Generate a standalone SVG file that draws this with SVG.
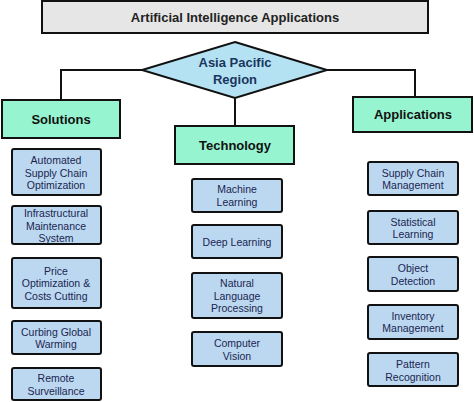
<svg xmlns="http://www.w3.org/2000/svg" width="474" height="402" viewBox="0 0 474 402">
<style>
.title{fill:#e6e6e6;stroke:#111;stroke-width:2}
.dia{fill:#b4e2f2;stroke:#111;stroke-width:2}
.cat{fill:#96f5d0;stroke:#111;stroke-width:2}
.item{fill:#bcd8f0;stroke:#111;stroke-width:2}
.conn{fill:none;stroke:#111;stroke-width:2}
text{font-family:"Liberation Sans",Arial,sans-serif;text-anchor:middle}
.tt{font-size:13px;font-weight:bold;fill:#222}
.dt{font-size:13px;font-weight:bold;fill:#1a3560}
.ct{font-size:13px;font-weight:bold;fill:#111}
.it{font-size:10.5px;fill:#1a2550}
</style>
<g id="connectors">
<path class="conn" d="M142,70 H61 V100"/>
<path class="conn" d="M327,70 H415 V97"/>
<path class="conn" d="M235,98 V126"/>
</g>
<g id="title"><rect class="title" x="42" y="1" width="386" height="32"/><text class="tt" x="235" y="22">Artificial Intelligence Applications</text></g>
<g id="asia"><polygon class="dia" points="235,42 327,70 235,98 142,70"/><text class="dt" x="235" y="67">Asia Pacific</text><text class="dt" x="235" y="84">Region</text></g>
<g id="solutions"><rect class="cat" x="2" y="100" width="118" height="38"/><text class="ct" x="61" y="124">Solutions</text></g>
<g id="technology"><rect class="cat" x="175" y="126" width="119" height="38"/><text class="ct" x="235" y="150">Technology</text></g>
<g id="applications"><rect class="cat" x="353" y="97" width="119" height="35"/><text class="ct" x="413" y="119">Applications</text></g>

<g id="s1"><rect class="item" x="12" y="149" width="89" height="46" rx="2"/><text class="it" x="56" y="164">Automated</text><text class="it" x="56" y="177">Supply Chain</text><text class="it" x="56" y="189">Optimization</text></g>
<g id="s2"><rect class="item" x="12" y="206" width="89" height="38" rx="2"/><text class="it" x="56" y="217">Infrastructural</text><text class="it" x="56" y="230">Maintenance</text><text class="it" x="56" y="242">System</text></g>
<g id="s3"><rect class="item" x="12" y="258" width="89" height="50" rx="2"/><text class="it" x="56" y="275">Price</text><text class="it" x="56" y="287">Optimization &amp;</text><text class="it" x="56" y="300">Costs Cutting</text></g>
<g id="s4"><rect class="item" x="12" y="321" width="89" height="33" rx="2"/><text class="it" x="56" y="336">Curbing Global</text><text class="it" x="56" y="348">Warming</text></g>
<g id="s5"><rect class="item" x="12" y="368" width="89" height="32" rx="2"/><text class="it" x="56" y="382">Remote</text><text class="it" x="56" y="395">Surveillance</text></g>

<g id="t1"><rect class="item" x="192" y="179" width="90" height="33" rx="2"/><text class="it" x="237" y="193">Machine</text><text class="it" x="237" y="206">Learning</text></g>
<g id="t2"><rect class="item" x="192" y="225" width="90" height="33" rx="2"/><text class="it" x="237" y="246">Deep Learning</text></g>
<g id="t3"><rect class="item" x="192" y="273" width="90" height="45" rx="2"/><text class="it" x="237" y="287">Natural</text><text class="it" x="237" y="300">Language</text><text class="it" x="237" y="312">Processing</text></g>
<g id="t4"><rect class="item" x="192" y="332" width="90" height="34" rx="2"/><text class="it" x="237" y="347">Computer</text><text class="it" x="237" y="360">Vision</text></g>

<g id="a1"><rect class="item" x="368" y="162" width="90" height="33" rx="2"/><text class="it" x="413" y="177">Supply Chain</text><text class="it" x="413" y="189">Management</text></g>
<g id="a2"><rect class="item" x="368" y="211" width="90" height="33" rx="2"/><text class="it" x="413" y="226">Statistical</text><text class="it" x="413" y="238">Learning</text></g>
<g id="a3"><rect class="item" x="368" y="257" width="90" height="34" rx="2"/><text class="it" x="413" y="272">Object</text><text class="it" x="413" y="285">Detection</text></g>
<g id="a4"><rect class="item" x="368" y="305" width="90" height="34" rx="2"/><text class="it" x="413" y="320">Inventory</text><text class="it" x="413" y="332">Management</text></g>
<g id="a5"><rect class="item" x="368" y="353" width="90" height="33" rx="2"/><text class="it" x="413" y="368">Pattern</text><text class="it" x="413" y="381">Recognition</text></g>
</svg>
